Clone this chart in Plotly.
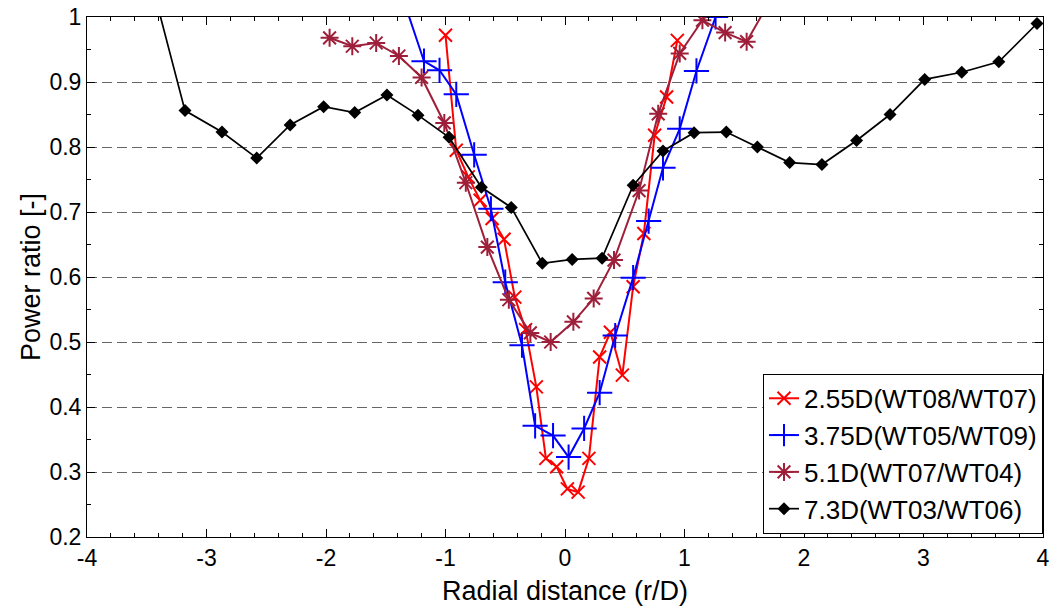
import plotly.graph_objects as go

# 2.55D(WT08/WT07)
red_x = [-1.00, -0.91, -0.81, -0.71, -0.61, -0.51, -0.42, -0.33, -0.24, -0.16, -0.07,
         0.02, 0.11, 0.20, 0.29, 0.38, 0.48, 0.57, 0.66, 0.75, 0.85, 0.94]
red_y = [0.972, 0.795, 0.754, 0.718, 0.690, 0.658, 0.569, 0.519, 0.431, 0.321, 0.308,
         0.274, 0.269, 0.321, 0.477, 0.515, 0.449, 0.585, 0.667, 0.818, 0.877, 0.964]

# 3.75D(WT05/WT09)
blue_x = [-1.34, -1.18, -1.05, -0.91, -0.76, -0.62, -0.50, -0.36, -0.25, -0.10, 0.03,
          0.16, 0.29, 0.42, 0.57, 0.70, 0.82, 0.96, 1.10, 1.26]
blue_y = [1.02, 0.932, 0.918, 0.881, 0.788, 0.705, 0.592, 0.495, 0.371, 0.356, 0.323,
          0.367, 0.422, 0.510, 0.599, 0.686, 0.768, 0.828, 0.917, 1.0]

# 5.1D(WT07/WT04)
maroon_x = [-1.97, -1.78, -1.58, -1.39, -1.20, -1.01, -0.83, -0.65, -0.47, -0.29, -0.12,
            0.07, 0.24, 0.41, 0.62, 0.78, 0.96, 1.15, 1.34, 1.52, 1.70]
maroon_y = [0.968, 0.955, 0.960, 0.940, 0.907, 0.837, 0.745, 0.646, 0.565, 0.514, 0.500,
            0.531, 0.567, 0.626, 0.733, 0.851, 0.944, 0.995, 0.976, 0.962, 1.02]

# 7.3D(WT03/WT06)
black_x = [-3.47, -3.18, -2.87, -2.58, -2.30, -2.02, -1.76, -1.49, -1.23, -0.97, -0.70,
           -0.45, -0.19, 0.06, 0.31, 0.57, 0.82, 1.08, 1.35, 1.61, 1.88, 2.15, 2.44,
           2.72, 3.01, 3.32, 3.63, 3.95]
black_y = [1.06, 0.856, 0.823, 0.783, 0.834, 0.862, 0.853, 0.880, 0.849, 0.815, 0.738,
           0.707, 0.621, 0.627, 0.629, 0.741, 0.794, 0.822, 0.823, 0.800, 0.776, 0.773,
           0.810, 0.850, 0.904, 0.915, 0.931, 0.990]

names = ["2.55D(WT08/WT07)", "3.75D(WT05/WT09)", "5.1D(WT07/WT04)", "7.3D(WT03/WT06)"]

x_tickvals = [-4, -3, -2, -1, 0, 1, 2, 3, 4]
x_ticktext = ["-4", "-3", "-2", "-1", "0", "1", "2", "3", "4"]

FONT = "Liberation Sans, Arial, sans-serif"

fig = go.Figure()
fig.add_trace(go.Scatter(x=red_x, y=red_y, name=names[0], mode="lines+markers",
                         line=dict(color="#ff0000", width=2),
                         marker=dict(symbol="x-thin-open", size=13,
                                     line=dict(color="#ff0000", width=2))))
fig.add_trace(go.Scatter(x=blue_x, y=blue_y, name=names[1], mode="lines+markers",
                         line=dict(color="#0000ff", width=2),
                         marker=dict(symbol="cross-thin-open", size=18,
                                     line=dict(color="#0000ff", width=2))))
fig.add_trace(go.Scatter(x=maroon_x, y=maroon_y, name=names[2], mode="lines+markers",
                         line=dict(color="#9e1f3a", width=2),
                         marker=dict(symbol="asterisk-open", size=15,
                                     line=dict(color="#9e1f3a", width=2))))
fig.add_trace(go.Scatter(x=black_x, y=black_y, name=names[3], mode="lines+markers",
                         line=dict(color="#000000", width=1.7),
                         marker=dict(symbol="diamond", size=10, color="#000000")))

fig.update_layout(
    width=1052, height=606,
    margin=dict(l=87, r=9, t=17, b=69),
    paper_bgcolor="white", plot_bgcolor="white",
    font=dict(family=FONT, size=23, color="black"),
    showlegend=True,
    legend=dict(x=1, xanchor="right", y=0.006, yanchor="bottom",
                bgcolor="white", bordercolor="black", borderwidth=1,
                font=dict(family=FONT, size=26, color="black"),
                tracegroupgap=0, itemwidth=30),
)
fig.update_xaxes(
    range=[-4, 4], tickvals=x_tickvals, ticktext=x_ticktext,
    showgrid=False, zeroline=False, automargin=False,
    showline=True, linecolor="black", linewidth=1, mirror="allticks",
    ticks="inside", ticklen=8, tickcolor="black",
    minor=dict(dtick=0.2, ticks="inside", ticklen=4, tickcolor="black", showgrid=False),
    title=dict(text="Radial distance (r/D)", font=dict(size=27), standoff=11),
    tickfont=dict(size=23),
)
fig.update_yaxes(
    range=[0.2, 1], dtick=0.1, tick0=0.2,
    showgrid=True, gridcolor="#666666", griddash="10px,5px", gridwidth=1.3,
    zeroline=False, automargin=False,
    showline=True, linecolor="black", linewidth=1, mirror="allticks",
    ticks="inside", ticklen=8, tickcolor="black",
    minor=dict(dtick=0.05, ticks="inside", ticklen=4, tickcolor="black", showgrid=False),
    title=dict(text="Power ratio [-]", font=dict(size=27), standoff=0),
    tickfont=dict(size=23),
)

fig.write_html("out.html", config={"displayModeBar": False},
               post_script="document.body.style.margin='0';document.body.style.overflow='hidden';")
